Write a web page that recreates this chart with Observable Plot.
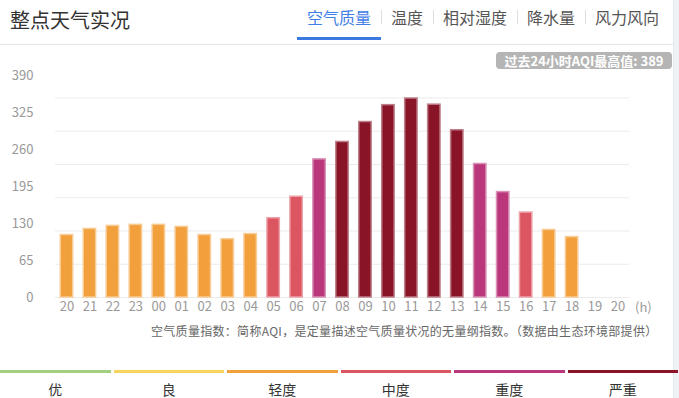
<!DOCTYPE html>
<html><head><meta charset="utf-8">
<script src="https://cdn.jsdelivr.net/npm/d3@7"></script>
<script src="https://cdn.jsdelivr.net/npm/@observablehq/plot@0.6"></script>
<style>
body{margin:0;background:#fff;font-family:"Noto Sans CJK SC","Noto Sans",sans-serif;}
#page{position:relative;width:679px;height:398px;overflow:hidden;background:#fff;}
.abs{position:absolute;white-space:nowrap;}
#page svg{position:absolute;top:0;left:0;background:transparent;}
</style></head><body><div id="page"></div>
<script>
// ---- data ----
const hours = ["20","21","22","23","00","01","02","03","04","05","06","07","08","09","10","11","12","13","14","15","16","17","18","19","20"];
const aqi = [122,134,140,142,142,138,122,114,124,155,197,270,304,343,376,389,377,327,261,206,166,132,118,null,null];
const yTicks = [0,65,130,195,260,325,390];
const levelNames = ["优","良","轻度","中度","重度","严重"];
const levelThresholds = [50,100,150,200,300];
const levelColors = ["#a2cf80","#f6d45e","#f2a03c","#dc5661","#b9377a","#891428"];
const tabs = ["空气质量","温度","相对湿度","降水量","风力风向"];
const title = "整点天气实况";
const maxText = "过去24小时AQI最高值: 389";
const caption = "空气质量指数：简称AQI，是定量描述空气质量状况的无量纲指数。（数据由生态环境部提供）";
const unitLabel = "(h)";

const page = document.getElementById("page");
const font = '"Noto Sans CJK SC","Noto Sans",sans-serif';
function el(tag, css, text){const e=document.createElement(tag);e.className="abs";e.style.cssText=css;if(text!=null)e.textContent=text;page.appendChild(e);return e;}

// header
el("div","left:10px;top:6px;font-size:20px;line-height:28px;color:#333;",title);
const tabRow = el("div","left:297px;top:6px;display:flex;align-items:center;font-size:16px;line-height:22px;");
tabs.forEach((t,i)=>{
  if(i>0){const s=document.createElement("span");s.style.cssText="display:inline-block;width:1px;height:14px;background:#dedede;margin:0 -0.5px;";tabRow.appendChild(s);}
  const s=document.createElement("span");s.textContent=t;s.style.cssText="padding:0 10px;color:"+(i===0?"#3f80e4":"#555")+";";tabRow.appendChild(s);
});
el("div","left:297px;top:37px;width:84px;height:3px;background:#3a7ae0;");
el("div","left:0;top:44px;width:673px;height:1px;background:#e6e6e6;");
el("div","left:673px;top:0;width:6px;height:398px;background:#eef1f5;border-left:1px solid #e4e7eb;");
el("div","left:496px;top:52px;width:176px;height:17px;border-radius:4px;background:#b5b5b5;color:#fff;font-size:13px;line-height:17px;text-align:center;font-weight:bold;",maxText);

// main chart
const levelColor = d3.scaleThreshold(levelThresholds, levelColors);
const data = hours.map((h,i)=>({i, h, v: aqi[i]})).filter(d=>d.v!=null)
  .map(d=>({...d, color: levelColor(d.v), edge: d3.interpolateRgb(levelColor(d.v), "#ffffff")(0.45)}));

const chart = Plot.plot({
  width: 679, height: 320,
  marginLeft: 55, marginRight: 50, marginTop: 97.5, marginBottom: 23,
  style: {fontFamily: font, fontSize: "13px", color: "#999", background: "transparent"},
  x: {type: "band", domain: d3.range(hours.length), paddingInner: 0.46, paddingOuter: 0.23, round: false, label: null},
  y: {domain: [0, 390], axis: null},
  marks: [
    Plot.ruleY(yTicks, {stroke: "#ebebeb", strokeWidth: 1}),
    Plot.barY(data, {x: "i", y: "v", fill: "color", stroke: "edge", strokeWidth: 1.5}),
    Plot.axisX({tickSize: 0, tickPadding: 4, fontSize: 13, fill: "#999", label: null, tickFormat: i => hours[i]})
  ]
});
page.appendChild(chart);

// y-axis labels (drawn on their own scale, as in the original)
const yLab = Plot.plot({
  width: 40, height: 320,
  marginLeft: 36, marginRight: 0, marginTop: 0, marginBottom: 0,
  style: {fontFamily: font, fontSize: "13px", color: "#999", background: "transparent"},
  x: {axis: null},
  y: {domain: [0, 390], range: [297, 75]},
  marks: [Plot.axisY(yTicks, {tickSize: 0, tickPadding: 3, fontSize: 13, fill: "#999", anchor: "left", label: null})]
});
page.appendChild(yLab);

el("div","left:635px;top:297px;font-size:13px;line-height:20px;color:#999;",unitLabel);
el("div","left:151px;top:322px;font-size:12px;line-height:18px;color:#666;letter-spacing:0.3px;",caption);

// level legend
levelNames.forEach((n,i)=>{
  el("div",`left:${i*113.5}px;top:370px;width:110.5px;height:3px;background:${levelColors[i]};`);
  el("div",`left:${i*113.5}px;top:379px;width:110.5px;text-align:center;font-size:14px;line-height:20px;color:#333;`,n);
});
</script></body></html>
